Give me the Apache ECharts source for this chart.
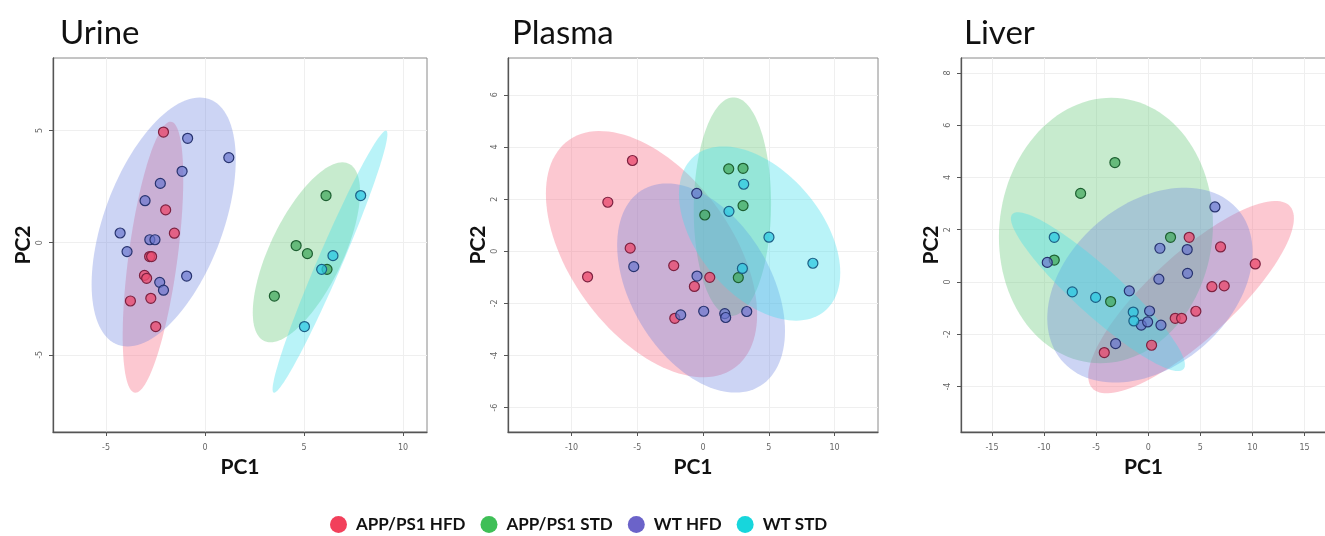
<!DOCTYPE html>
<html><head><meta charset="utf-8">
<script src="https://cdn.jsdelivr.net/npm/echarts@6/dist/echarts.min.js"></script>
<style>html,body{margin:0;background:#fff;overflow:hidden}#c{width:1325px;height:536px}</style>
</head><body><div id="c"></div>
<script>
const groups = ['APP/PS1 HFD', 'APP/PS1 STD', 'WT HFD', 'WT STD'];
const panels = ['Urine', 'Plasma', 'Liver'];

// ---- Urine scores [PC1, PC2]
const urineAppHfd = [[-2.1,4.93],[-1.99,1.46],[-1.55,0.42],[-2.8,-0.62],[-2.7,-0.62],[-3.06,-1.46],[-2.95,-1.59],[-3.77,-2.6],[-2.74,-2.48],[-2.49,-3.74]];
const urineAppStd = [[6.11,2.1],[4.6,-0.13],[5.17,-0.49],[6.16,-1.19],[3.5,-2.38]];
const urineWtHfd = [[-0.88,4.65],[1.2,3.79],[-1.16,3.18],[-2.26,2.64],[-3.03,1.87],[-4.29,0.43],[-3.94,-0.4],[-2.79,0.13],[-2.53,0.13],[-0.93,-1.49],[-2.29,-1.77],[-2.1,-2.12]];
const urineWtStd = [[7.86,2.1],[6.46,-0.58],[5.89,-1.19],[5.02,-3.74]];
// ellipses: [centre PC1, centre PC2, half-extent PC1, half-extent PC2, correlation]
const urineEllipses = [[-2.63,-0.65,1.53,6.04,0.58],[5.12,-0.43,2.71,4.01,0.67],[-2.09,0.92,3.64,5.55,0.50],[6.31,-0.85,2.9,5.84,0.973]];

// ---- Plasma
const plasmaAppHfd = [[-5.37,3.48],[-7.24,1.88],[-5.54,0.12],[-8.78,-0.98],[-2.23,-0.55],[0.51,-1.0],[-0.66,-1.35],[-2.15,-2.57]];
const plasmaAppStd = [[1.95,3.16],[3.04,3.18],[3.04,1.75],[0.13,1.39],[2.68,-1.01]];
const plasmaWtHfd = [[-0.48,2.22],[-5.27,-0.59],[-0.46,-0.95],[-1.7,-2.44],[0.05,-2.3],[1.65,-2.39],[1.72,-2.54],[3.32,-2.31]];
const plasmaWtStd = [[3.09,2.57],[1.97,1.53],[5.01,0.54],[8.35,-0.46],[2.99,-0.66]];
const plasmaEllipses = [[-3.92,-0.11,8.03,4.72,-0.49],[2.23,1.71,2.94,4.19,0.03],[-0.15,-1.41,6.38,4.01,-0.41],[4.3,0.68,6.13,3.34,-0.45]];

// ---- Liver
const liverAppHfd = [[3.93,1.71],[6.94,1.34],[10.27,0.69],[6.11,-0.18],[7.29,-0.15],[4.57,-1.12],[2.59,-1.39],[3.2,-1.39],[0.32,-2.42],[-4.22,-2.7]];
const liverAppStd = [[-3.2,4.57],[-6.49,3.39],[2.14,1.71],[-9.02,0.84],[-3.61,-0.75]];
const liverWtHfd = [[6.4,2.87],[-9.69,0.75],[1.12,1.29],[3.74,1.24],[1.02,0.11],[3.77,0.33],[-1.82,-0.34],[0.13,-1.11],[-0.67,-1.65],[-0.06,-1.53],[1.22,-1.65],[-3.13,-2.36]];
const liverWtStd = [[-9.02,1.71],[-7.29,-0.38],[-5.05,-0.59],[-1.44,-1.15],[-1.38,-1.49]];
const liverEllipses = [[4.11,-0.58,9.87,3.68,0.82],[-4.06,1.97,10.27,5.08,0.05],[0.16,-0.12,9.85,3.73,0.34],[-4.83,-0.37,8.35,3.04,-0.92]];

// axis ranges and tick values
const xRanges = [[-7.68,11.21],[-14.83,13.3],[-17.97,17.06]];
const yRanges = [[-8.44,8.23],[-6.93,7.41],[-5.74,8.57]];
const xTicks = [[-5,0,5,10],[-10,-5,0,5,10],[-15,-10,-5,0,5,10,15]];
const yTicks = [[-5,0,5],[-6,-4,-2,0,2,4,6],[-4,-2,0,2,4,6,8]];

const panelPoints = [
  [urineAppHfd, urineAppStd, urineWtHfd, urineWtStd],
  [plasmaAppHfd, plasmaAppStd, plasmaWtHfd, plasmaWtStd],
  [liverAppHfd, liverAppStd, liverWtHfd, liverWtStd]
];
const panelEllipses = [urineEllipses, plasmaEllipses, liverEllipses];

const legendColors = ['#f2405b', '#3fbf57', '#6b63c9', '#17d6dc'];
const ellipseFill = ['rgba(248,118,141,0.40)', 'rgba(100,200,120,0.36)', 'rgba(105,128,222,0.34)', 'rgba(60,222,236,0.36)'];
const pointFill = ['rgba(232,78,112,0.80)', 'rgba(70,170,95,0.75)', 'rgba(105,118,205,0.70)', 'rgba(45,200,225,0.75)'];
const pointBorder = ['#7d2140', '#1d5f31', '#27336f', '#1c5f86'];

const grids = [
  {left:53, top:58, width:374, height:374},
  {left:508, top:58, width:370, height:374},
  {left:961, top:58, width:365, height:374}
];
const titleLeft = [55, 507, 959];

const font = 'Lato';

const xAxis = [], yAxis = [], series = [], title = [];
panels.forEach((p, i) => {
  title.push({text:p, left:titleLeft[i], top:12, textStyle:{fontFamily:font, fontSize:33, fontWeight:'normal', color:'#111'}});
  const common = {
    gridIndex:i, type:'value', nameLocation:'middle',
    nameTextStyle:{fontFamily:font, fontWeight:'bold', fontSize:21, color:'#111'},
    axisLine:{show:true, onZero:false, lineStyle:{color:'#555', width:1.3}},
    splitLine:{show:true, lineStyle:{color:'#efefef', width:1}}
  };
  xAxis.push(Object.assign({}, common, {
    min:xRanges[i][0], max:xRanges[i][1],
    name:'PC1', nameGap:23,
    axisTick:{show:true, length:4, lineStyle:{color:'#555'}, customValues:xTicks[i]},
    axisLabel:{fontSize:8, color:'#666', margin:12, customValues:xTicks[i], fontFamily:'DejaVu Sans'}
  }));
  yAxis.push(Object.assign({}, common, {
    min:yRanges[i][0], max:yRanges[i][1],
    name:'PC2', nameGap:19,
    axisTick:{show:true, length:4, lineStyle:{color:'#555'}, customValues:yTicks[i]},
    axisLabel:{fontSize:8, color:'#666', margin:9, rotate:90, customValues:yTicks[i], fontFamily:'DejaVu Sans'}
  }));
  series.push({
    type:'custom', xAxisIndex:i, yAxisIndex:i, z:1, silent:true, clip:true,
    encode:{x:0, y:1},
    data: panelEllipses[i].map((e, g) => e.concat([g])),
    renderItem: function(params, api){
      const cx = api.value(0), cy = api.value(1), sx = api.value(2), sy = api.value(3), r = api.value(4), g = api.value(5);
      const q = Math.sqrt(1 - r*r);
      const pts = [];
      for (let k = 0; k < 120; k++) {
        const t = k / 120 * 2 * Math.PI;
        pts.push(api.coord([cx + sx*Math.cos(t), cy + sy*(r*Math.cos(t) + q*Math.sin(t))]));
      }
      return {type:'polygon', shape:{points:pts}, style:{fill:ellipseFill[g]}};
    }
  });
  groups.forEach((g, gi) => {
    series.push({
      type:'scatter', name:g, xAxisIndex:i, yAxisIndex:i, z:3,
      symbol:'circle', symbolSize:10,
      itemStyle:{color:pointFill[gi], borderColor:pointBorder[gi], borderWidth:1.2, opacity:1},
      data: panelPoints[i][gi]
    });
  });
});

const chart = echarts.init(document.getElementById('c'), null, {renderer:'canvas'});
chart.setOption({
  backgroundColor:'#fff',
  animation:false,
  title: title,
  grid: grids.map(g => Object.assign({show:true, borderColor:'#8a8a8a', borderWidth:1, backgroundColor:'#fff', containLabel:false, outerBoundsMode:'none'}, g)),
  xAxis: xAxis,
  yAxis: yAxis,
  legend: {
    left:330, top:516, padding:0, itemWidth:17, itemHeight:17, itemGap:15, icon:'circle',
    textStyle:{fontFamily:font, fontWeight:'bold', fontSize:17, color:'#111', padding:[0,0,0,4]},
    data: groups.map((g, gi) => ({name:g, itemStyle:{color:legendColors[gi], borderWidth:0, opacity:1}}))
  },
  series: series
});
</script>
</body></html>
